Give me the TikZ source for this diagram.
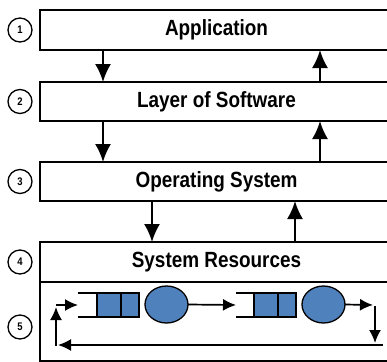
\documentclass[tikz,border=0pt]{standalone}
\usepackage{fontspec}
\setmainfont{Liberation Sans}
\newfontfamily\layerfont[FakeStretch=0.86]{Liberation Sans Bold}
\usepackage{tikz}
\usetikzlibrary{shapes.geometric, arrows, arrows.meta, calc, positioning}
\definecolor{qblue}{RGB}{79,129,189}
\tikzstyle{layer} = [rectangle, draw=black, line width=2pt, outer sep=0pt, minimum width=353pt, minimum height=39pt, inner sep=0pt, font=\layerfont\fontsize{22}{26}\selectfont]
\tikzstyle{num} = [circle, draw=black, line width=1.3pt, outer sep=0pt, minimum size=24pt, inner sep=0pt, font=\layerfont\fontsize{11}{12}\selectfont]
\tikzstyle{arrow} = [line width=2pt, -{Latex[length=18pt,width=16pt]}]
\tikzstyle{flow} = [line width=1.7pt, -{Latex[length=13pt,width=12pt]}]
\tikzstyle{cell} = [rectangle, draw=black, fill=qblue, line width=1.3pt, outer sep=0pt, minimum height=24pt, inner sep=0pt]
\tikzstyle{server} = [ellipse, draw=black, fill=qblue, line width=1.3pt, outer sep=0pt, minimum width=43pt, minimum height=37pt, inner sep=0pt]
\tikzstyle{rail} = [line width=1.3pt]

\begin{document}
\begin{tikzpicture}[x=1pt, y=-1pt, node distance = 10pt]
	\useasboundingbox (0,0) rectangle (387,361);

	% layers
	\node (app) [layer, minimum height=40pt] at (216.5,30) {Application};
	\node (sw) [layer, below=32pt of app] {Layer of Software};
	\node (os) [layer, below=41pt of sw] {Operating System};
	\node (res) [layer, minimum height=40pt, below=41pt of os] {System Resources};
	\node (pool) [layer, minimum height=79pt, below=0pt of res] {};

	% numbers
	\node (n1) [num, left=8pt of app] {1};
	\node (n2) [num, left=8pt of sw] {2};
	\node (n3) [num, left=8pt of os] {3};
	\node (n4) [num, left=8pt of res] {4};
	\node (n5) [num] at (20,327) {5};

	% calls between layers
	\draw[arrow] (app.south -| 103,0) -- (sw.north -| 103,0);
	\draw[arrow] (sw.north -| 320,0) -- (app.south -| 320,0);
	\draw[arrow] (sw.south -| 103,0) -- (os.north -| 103,0);
	\draw[arrow] (os.north -| 320,0) -- (sw.south -| 320,0);
	\draw[arrow] (os.south -| 152,0) -- (res.north -| 152,0);
	\draw[arrow] (res.north -| 295,0) -- (os.south -| 295,0);

	% queues and servers
	\node (q1a) [cell, minimum width=24pt] at (109,305) {};
	\node (q1b) [cell, minimum width=18pt, right=0pt of q1a] {};
	\node (s1) [server] at (166.5,304.5) {};
	\node (q2a) [cell, minimum width=24pt] at (266,305) {};
	\node (q2b) [cell, minimum width=18pt, right=0pt of q2a] {};
	\node (s2) [server] at (323.5,304.5) {};

	\coordinate (q1in) at (78,305);
	\coordinate (q2in) at (236,305);
	\coordinate (out1) at (373,305);
	\coordinate (out2) at (375,306);
	\coordinate (down) at (375,343);
	\coordinate (back1) at (383,345);
	\coordinate (back2) at (58,345);
	\coordinate (up1) at (56,346);
	\coordinate (up2) at (56,307);
	\coordinate (in1) at (56,305);

	\draw[rail] (q1a.north west) -- (q1a.north west -| q1in);
	\draw[rail] (q1a.south west) -- (q1a.south west -| q1in);
	\draw[rail] (q2a.north west) -- (q2a.north west -| q2in);
	\draw[rail] (q2a.south west) -- (q2a.south west -| q2in);

	% flow
	\draw[flow] (in1) -- (q1in);
	\draw[flow] (s1.east) -- (q2in);
	\draw[flow] (s2.east) -- (out1);
	\draw[flow] (out2) -- (down);
	\draw[flow] (back1) -- (back2);
	\draw[flow] (up1) -- (up2);
\end{tikzpicture}
\end{document}
